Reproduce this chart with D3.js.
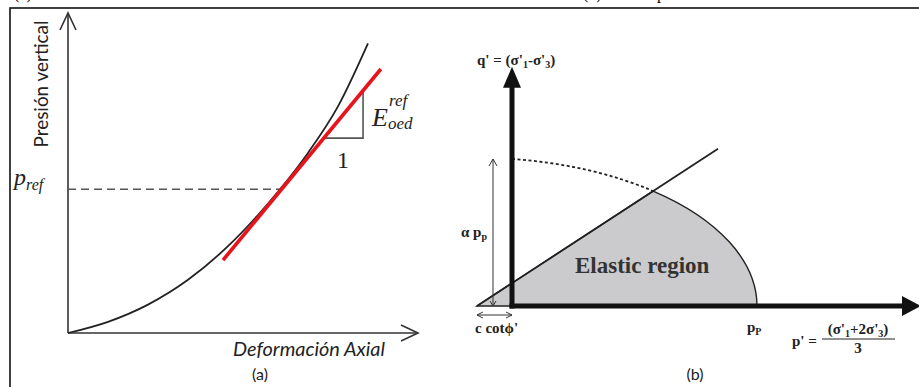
<!DOCTYPE html>
<html>
<head>
<meta charset="utf-8">
<script src="https://cdn.jsdelivr.net/npm/d3@7"></script>
<style>
  body { margin: 0; background: #fff; }
  svg { display: block; }
</style>
</head>
<body>
<div id="fig"></div>
<script>
// ---- panel (a) data : strain / vertical pressure (arbitrary units 0..10)
const curveStrain   = [0, 1.143, 2.286, 3.429, 4.571, 5.429, 6.057, 6.857, 7.714, 8.571];
const curvePressure = [0, 0.35, 0.888, 1.663, 2.713, 3.688, 4.491, 5.628, 7.081, 9.05];
const tangentStrain   = [4.43, 8.94];
const tangentPressure = [2.28, 8.25];
const pRef = 4.49, pRefStrain = 6.057;
const slopeRun  = [7.34, 8.43];   // triangle "1" leg
const slopeRise = [6.09, 7.53];   // triangle E leg

// ---- panel (b) data : p' / q' normalised by p_p
const apexP = -0.143;                 // -c cot(phi')
const coneEnd = [0.841, 0.642];
const capHit = [0.576, 0.469];        // cone / cap intersection
const capTopQ = 0.600;                // alpha p_p
const capRadii = [1.143, 0.604];      // ellipse radii (p, q)
const pAxisEnd = 1.653, qAxisEnd = 0.96;

const captions = ["(a)", "(b)", "p"];

const W = 919, H = 387;
const svg = d3.select("#fig").append("svg")
    .attr("width", W).attr("height", H);

// clipped caption fragments above the frame
svg.append("text").attr("x", 14).attr("y", -1)
    .style("font", "16px 'Liberation Serif'").text(captions[0]);
svg.append("text").attr("x", 583).attr("y", -1)
    .style("font", "16px 'Liberation Serif'").text(captions[1]);
svg.append("text").attr("x", 657).attr("y", -1)
    .style("font", "16px 'Liberation Serif'").text(captions[2]);

// frame
svg.append("rect")
    .attr("x", 10).attr("y", 8).attr("width", W + 10).attr("height", H + 10)
    .attr("fill", "none").attr("stroke", "#111").attr("stroke-width", 1.6);

// ================= panel (a) =================
const xa = d3.scaleLinear().domain([0, 10]).range([68, 418]);
const ya = d3.scaleLinear().domain([0, 10]).range([333, 13]);
const ga = svg.append("g");

const axisCol = "#333";
// y axis + open arrow
ga.append("line").attr("x1", xa(0)).attr("x2", xa(0)).attr("y1", ya(0)).attr("y2", ya(10))
    .attr("stroke", axisCol).attr("stroke-width", 1.6);
ga.append("path")
    .attr("d", `M${xa(0) - 8},${ya(10) + 17}L${xa(0)},${ya(10)}L${xa(0) + 8},${ya(10) + 17}`)
    .attr("fill", "none").attr("stroke", axisCol).attr("stroke-width", 1.6);
// x axis + open arrow
ga.append("line").attr("x1", xa(0)).attr("x2", xa(10)).attr("y1", ya(0)).attr("y2", ya(0))
    .attr("stroke", axisCol).attr("stroke-width", 1.6);
ga.append("path")
    .attr("d", `M${xa(10) - 17},${ya(0) - 8}L${xa(10)},${ya(0)}L${xa(10) - 17},${ya(0) + 8}`)
    .attr("fill", "none").attr("stroke", axisCol).attr("stroke-width", 1.6);

// p_ref dashed
ga.append("line")
    .attr("x1", xa(0)).attr("x2", xa(pRefStrain)).attr("y1", ya(pRef)).attr("y2", ya(pRef))
    .attr("stroke", "#555").attr("stroke-width", 1.4).attr("stroke-dasharray", "8,5");

// curve
const curveData = curveStrain.map((s, i) => [s, curvePressure[i]]);
ga.append("path").datum(curveData)
    .attr("d", d3.line().x(d => xa(d[0])).y(d => ya(d[1])).curve(d3.curveMonotoneX))
    .attr("fill", "none").attr("stroke", "#222").attr("stroke-width", 1.8);

// slope triangle
ga.append("path")
    .attr("d", `M${xa(slopeRun[0])},${ya(slopeRise[0])}L${xa(slopeRun[1])},${ya(slopeRise[0])}L${xa(slopeRun[1])},${ya(slopeRise[1])}`)
    .attr("fill", "none").attr("stroke", "#555").attr("stroke-width", 1.6);

// red tangent
ga.append("line")
    .attr("x1", xa(tangentStrain[0])).attr("y1", ya(tangentPressure[0]))
    .attr("x2", xa(tangentStrain[1])).attr("y2", ya(tangentPressure[1]))
    .attr("stroke", "#e8141c").attr("stroke-width", 3.6);

// labels (a)
ga.append("text")
    .attr("transform", "translate(48,84) rotate(-90)")
    .attr("text-anchor", "middle")
    .attr("textLength", 127).attr("lengthAdjust", "spacingAndGlyphs")
    .style("font", "19px Lato").style("fill", "#222")
    .text("Presión vertical");

const pr = ga.append("text").attr("x", 14).attr("y", 185)
    .style("font", "italic 24px 'Liberation Serif'").style("fill", "#222");
pr.append("tspan").text("p");
pr.append("tspan").attr("dy", 5).style("font-size", "16px").text("ref");

ga.append("text").attr("x", 343).attr("y", 168).attr("text-anchor", "middle")
    .style("font", "24px 'Liberation Serif'").style("fill", "#222").text("1");

ga.append("text").attr("x", 372).attr("y", 126)
    .style("font", "italic 26px 'Liberation Serif'").style("fill", "#222").text("E");
ga.append("text").attr("x", 389).attr("y", 106)
    .style("font", "italic 17px 'Liberation Serif'").style("fill", "#222").text("ref");
ga.append("text").attr("x", 388).attr("y", 129)
    .style("font", "italic 17px 'Liberation Serif'").style("fill", "#222").text("oed");

ga.append("text").attr("x", 233).attr("y", 356)
    .attr("textLength", 152).attr("lengthAdjust", "spacingAndGlyphs")
    .style("font", "italic 19px Lato").style("fill", "#222").text("Deformación Axial");
ga.append("text").attr("x", 260).attr("y", 380).attr("text-anchor", "middle")
    .style("font", "16px Lato").style("fill", "#222").text("(a)");

// ================= panel (b) =================
const xb = d3.scaleLinear().domain([0, 1]).range([512, 757]);
const yb = d3.scaleLinear().domain([0, 1]).range([306, 61]);
const gb = svg.append("g");

const rx = xb(capRadii[0]) - xb(0), ry = yb(0) - yb(capRadii[1]);

// elastic region fill
gb.append("path")
    .attr("d", `M${xb(apexP)},${yb(0)}L${xb(capHit[0])},${yb(capHit[1])}` +
               `A${rx},${ry} 0 0 1 ${xb(1)},${yb(0)}Z`)
    .attr("fill", "#cbcbcd").attr("stroke", "#222").attr("stroke-width", 1.4);

// cone line
gb.append("line")
    .attr("x1", xb(apexP)).attr("y1", yb(0))
    .attr("x2", xb(coneEnd[0])).attr("y2", yb(coneEnd[1]))
    .attr("stroke", "#222").attr("stroke-width", 1.8);

// dotted cap
gb.append("path")
    .attr("d", `M${xb(0)},${yb(capTopQ)}A${rx},${ry} 0 0 1 ${xb(capHit[0])},${yb(capHit[1])}`)
    .attr("fill", "none").attr("stroke", "#222").attr("stroke-width", 1.8)
    .attr("stroke-dasharray", "3,2.5");

// alpha p_p arrow
const thin = "#333";
gb.append("line").attr("x1", 493).attr("x2", 493).attr("y1", yb(capTopQ)).attr("y2", yb(0))
    .attr("stroke", thin).attr("stroke-width", 1);
gb.append("path").attr("d", `M489,${yb(capTopQ) + 7}L493,${yb(capTopQ)}L497,${yb(capTopQ) + 7}`)
    .attr("fill", "none").attr("stroke", thin).attr("stroke-width", 1);
gb.append("path").attr("d", `M490,${yb(0) - 5}L493,${yb(0)}L496,${yb(0) - 5}`)
    .attr("fill", "none").attr("stroke", thin).attr("stroke-width", 1);

// c cot phi arrow
gb.append("line").attr("x1", xb(apexP)).attr("x2", xb(0)).attr("y1", 315).attr("y2", 315)
    .attr("stroke", thin).attr("stroke-width", 1);
gb.append("path").attr("d", `M${xb(apexP) + 6},312L${xb(apexP)},315L${xb(apexP) + 6},318`)
    .attr("fill", "none").attr("stroke", thin).attr("stroke-width", 1);
gb.append("path").attr("d", `M${xb(0) - 6},312L${xb(0)},315L${xb(0) - 6},318`)
    .attr("fill", "none").attr("stroke", thin).attr("stroke-width", 1);

// thick axes
gb.append("line").attr("x1", xb(0)).attr("x2", xb(0)).attr("y1", yb(0) + 2.5).attr("y2", yb(qAxisEnd) + 14)
    .attr("stroke", "#111").attr("stroke-width", 5);
gb.append("path")
    .attr("d", `M${xb(0)},${yb(qAxisEnd) - 4}L${xb(0) - 9},${yb(qAxisEnd) + 17}L${xb(0) + 9},${yb(qAxisEnd) + 17}Z`)
    .attr("fill", "#111");
gb.append("line").attr("x1", xb(0) - 2.5).attr("x2", xb(pAxisEnd) - 12).attr("y1", yb(0)).attr("y2", yb(0))
    .attr("stroke", "#111").attr("stroke-width", 5);
gb.append("path")
    .attr("d", `M${xb(pAxisEnd) + 4},${yb(0)}L${xb(pAxisEnd) - 15},${yb(0) - 10}L${xb(pAxisEnd) - 15},${yb(0) + 10}Z`)
    .attr("fill", "#111");

// labels (b)
const tb = "bold 15px 'Liberation Serif'";
const q = gb.append("text").attr("x", 477).attr("y", 65).style("font", tb).style("fill", "#222");
q.append("tspan").text("q' = (σ'");
q.append("tspan").attr("dy", 3).style("font-size", "10px").text("1");
q.append("tspan").attr("dy", -3).text("-σ'");
q.append("tspan").attr("dy", 3).style("font-size", "10px").text("3");
q.append("tspan").attr("dy", -3).text(")");

const a = gb.append("text").attr("x", 487).attr("y", 237).attr("text-anchor", "end")
    .style("font", tb).style("fill", "#222");
a.append("tspan").text("α p");
a.append("tspan").attr("dy", 3).style("font-size", "10px").text("p");

gb.append("text").attr("x", 475).attr("y", 333).style("font", tb).style("fill", "#222")
    .text("c cotϕ'");

const pp = gb.append("text").attr("x", 747).attr("y", 332).style("font", tb).style("fill", "#222");
pp.append("tspan").text("p");
pp.append("tspan").attr("dy", 3).style("font-size", "10px").text("P");

gb.append("text").attr("x", 792).attr("y", 346).style("font", tb).style("fill", "#222").text("p' =");
const num = gb.append("text").attr("x", 858).attr("y", 334).attr("text-anchor", "middle")
    .style("font", tb).style("fill", "#222");
num.append("tspan").text("(σ'");
num.append("tspan").attr("dy", 3).style("font-size", "10px").text("1");
num.append("tspan").attr("dy", -3).text("+2σ'");
num.append("tspan").attr("dy", 3).style("font-size", "10px").text("3");
num.append("tspan").attr("dy", -3).text(")");
gb.append("line").attr("x1", 822).attr("x2", 895).attr("y1", 339).attr("y2", 339)
    .attr("stroke", "#222").attr("stroke-width", 1.2);
gb.append("text").attr("x", 858).attr("y", 353).attr("text-anchor", "middle")
    .style("font", tb).style("fill", "#222").text("3");

gb.append("text").attr("x", 575).attr("y", 273)
    .style("font", "bold 23px 'Liberation Serif'").style("fill", "#333").text("Elastic region");

gb.append("text").attr("x", 695).attr("y", 380).attr("text-anchor", "middle")
    .style("font", "16px Lato").style("fill", "#222").text("(b)");
</script>
</body>
</html>
